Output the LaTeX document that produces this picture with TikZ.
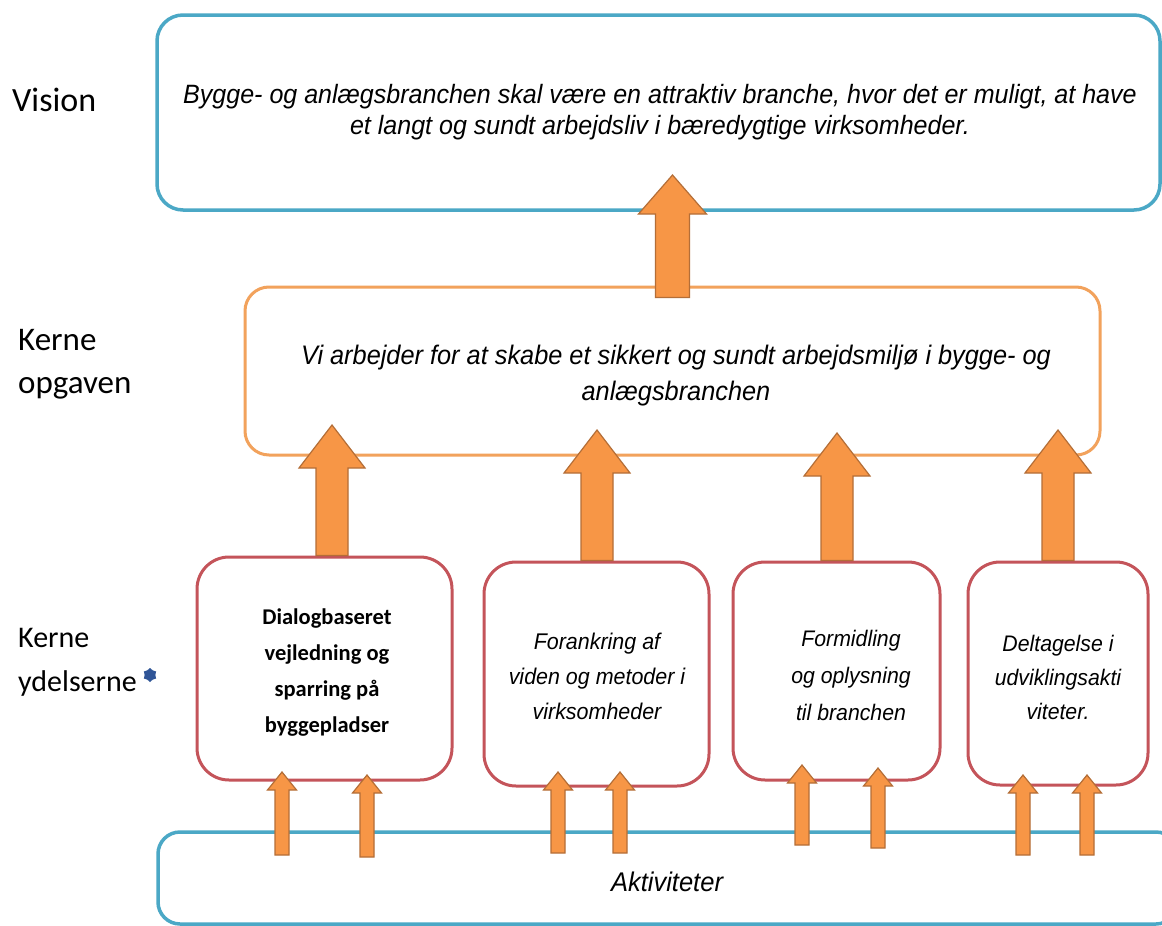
\documentclass[tikz,border=0pt]{standalone}
\usepackage{fontspec}
\setmainfont{Liberation Sans}
\newfontfamily\calfont{Carlito}
\newfontfamily\arlfont[FakeStretch=0.945]{Liberation Sans}
\usetikzlibrary{calc,shapes.geometric}
\definecolor{vblue}{RGB}{75,168,198}
\definecolor{korange}{RGB}{242,162,92}
\definecolor{yred}{RGB}{196,84,90}
\definecolor{afill}{RGB}{247,150,70}
\definecolor{aline}{RGB}{180,110,55}
\definecolor{starblue}{RGB}{47,85,151}
\tikzset{
  box/.style={draw=#1, rounded corners=26pt, fill=white, inner sep=0pt},
  leftlabel/.style={anchor=west, align=left, font=\calfont\fontsize{#1}{#1}\selectfont, inner sep=0pt},
  itext/.style n args={2}{align=center, inner sep=0pt, font=\arlfont\itshape\fontsize{#1}{#2}\selectfont},
  barrow/.style={fill=afill, draw=aline, line width=1.2pt, line join=miter},
}
% start, target, shaft width, head width, head length
\newcommand\blockarrow[5]{%
  \path[barrow] let \p1=#1, \p2=#2 in
    ({\x1-0.5*#3pt},\y1) -- ({\x1-0.5*#3pt},{\y2-#5pt}) -- ({\x1-0.5*#4pt},{\y2-#5pt})
    -- (\x1,\y2) -- ({\x1+0.5*#4pt},{\y2-#5pt}) -- ({\x1+0.5*#3pt},{\y2-#5pt})
    -- ({\x1+0.5*#3pt},\y1) -- cycle;}
\begin{document}
\begin{tikzpicture}[x=1pt,y=-1pt]
\fill[white] (0,0) rectangle (1162,926);
\useasboundingbox (0,0) rectangle (1162,926);

% left labels
\node[leftlabel=34] (lvision) at (12,100) {Vision};
\node[leftlabel=33] (lkerne1) at (18,340) {Kerne};
\node[leftlabel=33] (lkerne2) at (18,388) {opgaven};
\node[leftlabel=30] (lydelse1) at (18,638) {Kerne};
\node[leftlabel=30] (lydelse2) at (18,683) {ydelserne};
\node[star, star points=6, star point ratio=1.3, fill=starblue, inner sep=0pt, minimum size=14pt] (st) at (150,675) {};

% main boxes
\node[box=vblue, line width=3.5pt, minimum width=1003pt, minimum height=195pt] (vision) at (658.5,112.5) {};
\node[itext={26.5}{31}] (vtext) at (660,112.5) {Bygge- og anlægsbranchen skal være en attraktiv branche, hvor det er muligt, at have\\et langt og sundt arbejdsliv i bæredygtige virksomheder.};

\node[box=korange, line width=3pt, minimum width=855pt, minimum height=168pt, rounded corners=24pt] (kerne) at (672.5,371) {};
\node[itext={26.8}{36}] (ktext) at (676,376) {Vi arbejder for at skabe et sikkert og sundt arbejdsmiljø i bygge- og\\anlægsbranchen};

\node[box=vblue, line width=3.5pt, minimum width=1020pt, minimum height=92pt, rounded corners=22pt] (akt) at (668,878) {};
\node[itext={27}{30}] (akttext) at (667,882) {Aktiviteter};

% ydelser boxes
\node[box=yred, line width=3pt, minimum width=255pt, minimum height=223pt, rounded corners=32pt] (dialog) at (324.5,668.5) {};
\node[align=center, inner sep=0pt, font=\calfont\bfseries\fontsize{22.5}{36}\selectfont] (dtext) at (327,673) {Dialogbaseret\\vejledning og\\sparring på\\byggepladser};

\node[box=yred, line width=3pt, minimum width=225pt, minimum height=224pt, rounded corners=32pt] (forank) at (596.5,674) {};
\node[itext={22.7}{35}] (ftext) at (597,676) {Forankring af\\viden og metoder i\\virksomheder};

\node[box=yred, line width=3pt, minimum width=207pt, minimum height=218pt, rounded corners=32pt] (formid) at (836.5,671) {};
\node[itext={22.5}{37}] (otext) at (851,675) {Formidling\\og oplysning\\til branchen};

\node[box=yred, line width=3pt, minimum width=180pt, minimum height=223pt, rounded corners=32pt] (delt) at (1058,673.5) {};
\node[itext={22.5}{34}] (ttext) at (1058,677) {Deltagelse i\\udviklingsakti\\viteter.};

% arrow anchor coordinates
\coordinate (v0) at ([yshift=-12pt]kerne.north);
\coordinate (vt) at (672,175);
\blockarrow{(v0)}{(vt)}{34}{68}{39}

\coordinate (t1) at (332,425);
\coordinate (t2) at (597,430);
\coordinate (t3) at (837,433);
\coordinate (t4) at (1058,430);
\blockarrow{(dialog.north -| t1)}{(t1)}{32}{66}{43}
\blockarrow{(forank.north -| t2)}{(t2)}{32}{66}{43}
\blockarrow{(formid.north -| t3)}{(t3)}{32}{66}{43}
\blockarrow{(delt.north -| t4)}{(t4)}{32}{66}{43}

% small arrows from Aktiviteter
\foreach \k/\xx/\bb/\tt in {a1/282/855/772, a2/367/857/775, a3/558/853/772, a4/620/853/772, a5/802/845/765, a6/878/848/768, a7/1023/855/775, a8/1087/855/775}{
  \coordinate (\k s) at (\xx,\bb);
  \coordinate (\k t) at (\xx,\tt);
  \blockarrow{(\k s)}{(\k t)}{14}{29}{18}
}
\end{tikzpicture}
\end{document}
